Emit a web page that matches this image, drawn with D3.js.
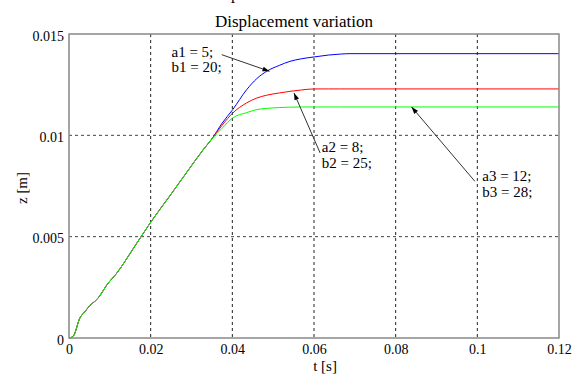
<!DOCTYPE html>
<html>
<head>
<meta charset="utf-8">
<script src="https://cdn.jsdelivr.net/npm/d3@7"></script>
<style>
  body { margin: 0; background: #fff; }
  svg text { font-family: "Liberation Serif", "DejaVu Serif", serif !important; fill: #000; }
</style>
</head>
<body>
<div id="chart"></div>
<script>
// time samples [s]
const tVals = [0, 0.001, 0.0027, 0.0039, 0.0051, 0.0068, 0.0076, 0.0092, 0.0117, 0.0157,
  0.0198, 0.025, 0.0296, 0.0329, 0.0349, 0.0375, 0.0401, 0.0435, 0.046, 0.0484,
  0.0515, 0.0541, 0.057, 0.0601, 0.0635, 0.0665, 0.0688, 0.12];
const zCommon = [0, 0.00008, 0.001, 0.0013, 0.0016, 0.0019, 0.0021, 0.0026, 0.0032, 0.0044,
  0.00565, 0.0071, 0.00839, 0.0093, 0.0098];
const zBlue = zCommon.concat([0.0106, 0.01127, 0.01225, 0.0128, 0.01316, 0.01345, 0.01365,
  0.01378, 0.01387, 0.01396, 0.01401, 0.01403, 0.01403]);
const zRed = zCommon.concat([0.0105, 0.0111, 0.0116, 0.01184, 0.01198, 0.01209, 0.01217,
  0.01224, 0.01229, 0.01229, 0.01229, 0.01229, 0.01229]);
const zGreen = zCommon.concat([0.01035, 0.01086, 0.01112, 0.01127, 0.01133, 0.01137, 0.01139,
  0.0114, 0.0114, 0.0114, 0.0114, 0.0114, 0.0114]);
const xTicks = [0, 0.02, 0.04, 0.06, 0.08, 0.1, 0.12];
const yTicks = [0, 0.005, 0.01, 0.015];
const notes = [
  { lines: ["a1 = 5;", "b1 = 20;"], at: [0.0251, 0.01388], from: [0.0374, 0.01398], to: [0.0491, 0.01316] },
  { lines: ["a2 = 8;", "b2 = 25;"], at: [0.0619, 0.00916], from: [0.0615, 0.00913], to: [0.0551, 0.01209] },
  { lines: ["a3 = 12;", "b3 = 28;"], at: [0.1012, 0.00773], from: [0.0994, 0.00773], to: [0.0839, 0.0114] }
];

const serif = '"Liberation Serif", "DejaVu Serif", serif';
const W = 579, H = 374;
const margin = { top: 34, right: 20, bottom: 36, left: 69 };
const width = 490, height = 304;

const svg = d3.select('#chart').append('svg')
  .attr('width', W).attr('height', H)
  .attr('font-family', serif);

svg.append('defs').append('marker')
  .attr('id', 'ah').attr('viewBox', '0 0 10 10')
  .attr('refX', 10).attr('refY', 5)
  .attr('markerWidth', 9).attr('markerHeight', 7)
  .attr('markerUnits', 'userSpaceOnUse')
  .attr('orient', 'auto')
  .append('path').attr('d', 'M0,1.5 L10,5 L0,8.5 Z').attr('fill', '#000');

const g = svg.append('g').attr('transform', 'translate(' + margin.left + ',' + margin.top + ')');

const x = d3.scaleLinear().domain([0, 0.12]).range([0, width]);
const y = d3.scaleLinear().domain([0, 0.015]).range([height, 0]);

// grid
g.selectAll('.vg').data(xTicks.slice(1, -1)).enter().append('line')
  .attr('x1', d => x(d)).attr('x2', d => x(d)).attr('y1', 0).attr('y2', height)
  .attr('stroke', '#222').attr('stroke-dasharray', '3,3');
g.selectAll('.hg').data(yTicks.slice(1, -1)).enter().append('line')
  .attr('y1', d => y(d)).attr('y2', d => y(d)).attr('x1', 0).attr('x2', width)
  .attr('stroke', '#444').attr('stroke-dasharray', '3,3');

// curves
const line = d3.line()
  .x((d, i) => x(tVals[i]))
  .y(d => y(d))
  .curve(d3.curveMonotoneX);
[[zBlue, '#0000ff'], [zRed, '#ff0000'], [zGreen, '#00ff00']].forEach(s => {
  g.append('path').datum(s[0])
    .attr('fill', 'none').attr('stroke', s[1]).attr('stroke-width', 1)
    .attr('d', line);
});

// frame
g.append('rect').attr('x', 0).attr('y', 0).attr('width', width).attr('height', height)
  .attr('fill', 'none').attr('stroke', '#888').attr('stroke-width', 1.5);

// axes labels
const xAxis = g.append('g').attr('transform', 'translate(0,' + height + ')')
  .call(d3.axisBottom(x).tickValues(xTicks).tickSize(0).tickPadding(6).tickFormat(d => d3.format('~g')(d)));
const yAxis = g.append('g')
  .call(d3.axisLeft(y).tickValues(yTicks).tickSize(0).tickPadding(5).tickFormat(d => d3.format('~g')(d)));
[xAxis, yAxis].forEach(a => {
  a.attr('font-family', serif).attr('font-size', 14);
  a.select('.domain').remove();
  a.selectAll('text').attr('font-family', serif).attr('font-size', 14).attr('fill', '#000');
});
yAxis.selectAll('text').attr('dy', '0.45em');

// annotations
notes.forEach(n => {
  g.append('line')
    .attr('x1', x(n.from[0])).attr('y1', y(n.from[1]))
    .attr('x2', x(n.to[0])).attr('y2', y(n.to[1]))
    .attr('stroke', '#333').attr('stroke-width', 1)
    .attr('marker-end', 'url(#ah)');
  n.lines.forEach((l, i) => {
    g.append('text').attr('x', x(n.at[0])).attr('y', y(n.at[1]) + i * 15.5)
      .attr('font-family', serif).attr('font-size', 15).text(l);
  });
});

// titles
svg.append('text').attr('x', 294).attr('y', 27).attr('text-anchor', 'middle')
  .attr('font-size', 17).text('Displacement variation');
svg.append('text').attr('x', 231).attr('y', -1).attr('font-size', 16).text('p');
svg.append('text').attr('x', 325).attr('y', 371).attr('text-anchor', 'middle')
  .attr('font-size', 15).text('t [s]');
svg.append('text').attr('transform', 'translate(27,188) rotate(-90)').attr('text-anchor', 'middle')
  .attr('font-size', 15).text('z [m]');
</script>
</body>
</html>
